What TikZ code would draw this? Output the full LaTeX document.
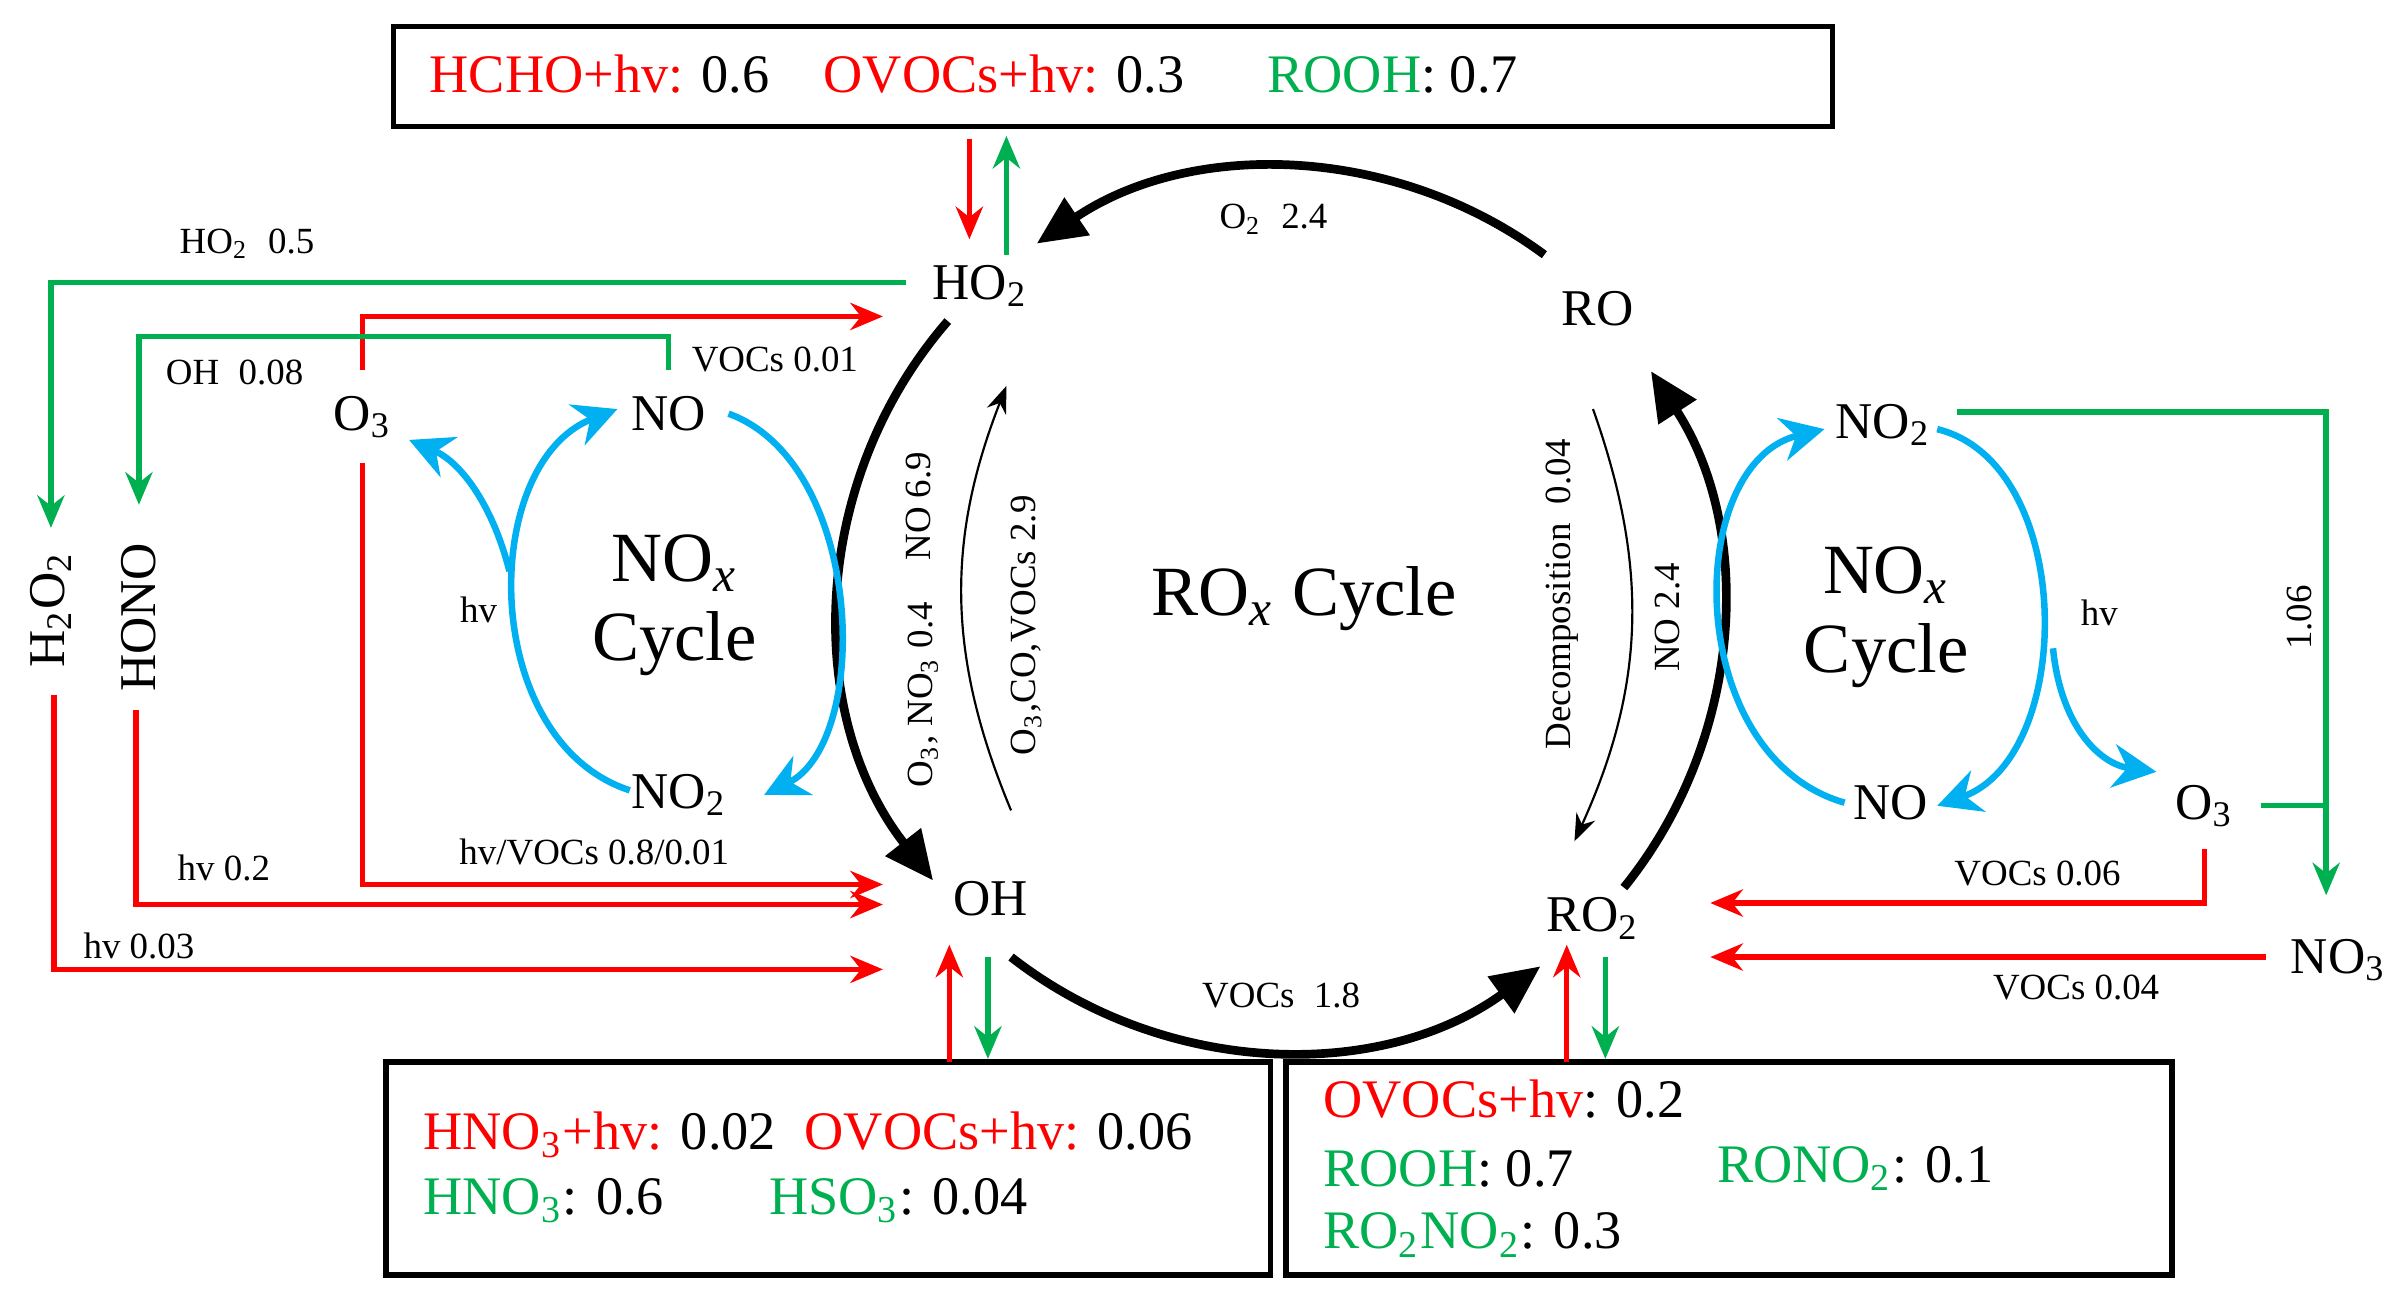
\documentclass[tikz,border=0pt]{standalone}
\usepackage{fontspec}
\setmainfont{Liberation Serif}
\usetikzlibrary{arrows.meta}
\definecolor{rr}{RGB}{255,0,0}
\definecolor{gg}{RGB}{0,176,80}
\definecolor{bb}{RGB}{0,176,240}
\newcommand{\sbs}[1]{\textsubscript{#1}}
\begin{document}
\begin{tikzpicture}[x=0.01cm,y=-0.01cm,
  big/.style={font=\fontsize{10}{12}\selectfont},
  med/.style={font=\fontsize{9.5}{11}\selectfont},
  sm/.style={font=\fontsize{6.8}{8}\selectfont},
  cyc/.style={font=\fontsize{13}{14.5}\selectfont,align=center},
  bx/.style={draw,line width=1pt},
  blk/.style={line width=1.6pt,-{Triangle[length=9pt,width=8pt]}},
  thin/.style={line width=0.4pt,-{Stealth[length=5pt]}},
  rl/.style={rr,line width=1pt,-{Stealth[length=6pt,width=5pt]}},
  gl/.style={gg,line width=1pt,-{Stealth[length=6pt,width=5pt]}},
  bl/.style={bb,line width=1.2pt,-{Stealth[length=8pt,width=8pt]}}]
\useasboundingbox (0,0) rectangle (1560,839);
% boxes
\draw[bx] (255,17) rectangle (1187,82);
\node[big,anchor=west] (t1) at (266,48) {\textcolor{rr}{HCHO+hv:} 0.6\quad \textcolor{rr}{OVOCs+hv:} 0.3\quad\; \textcolor{gg}{ROOH}: 0.7};
\draw[bx] (250,688) rectangle (823,826);
\node[big,anchor=west] (b1) at (262,735) {\textcolor{rr}{HNO\sbs{3}+hv:} 0.02\; \textcolor{rr}{OVOCs+hv:} 0.06};
\node[big,anchor=west] (b2) at (262,778) {\textcolor{gg}{HNO\sbs{3}}: 0.6};
\node[big,anchor=west] (b3) at (486,778) {\textcolor{gg}{HSO\sbs{3}}: 0.04};
\draw[bx] (833,688) rectangle (1407,826);
\node[big,anchor=west] (c1) at (845,712) {\textcolor{rr}{OVOCs+hv}: 0.2};
\node[big,anchor=west] (c2) at (845,757) {\textcolor{gg}{ROOH}: 0.7};
\node[big,anchor=west] (c3) at (1100,757) {\textcolor{gg}{RONO\sbs{2}}: 0.1};
\node[big,anchor=west] (c4) at (845,800) {\textcolor{gg}{RO\sbs{2}NO\sbs{2}}: 0.3};
% main species
\node[med] (ho2) at (635,185) {HO\sbs{2}};
\node[med] (oh) at (642,582) {OH};
\node[med] (ro) at (1035,200) {RO};
\node[med] (ro2) at (1032,595) {RO\sbs{2}};
\node[cyc] (rox) at (845,388) {RO\sbs{\textit{x}} Cycle};
% big arcs
\draw[blk] (1000.5,165) arc[start angle=-53.5,end angle=-124,radius=285];
\draw[blk] (614,208) arc[start angle=-139,end angle=-218,radius=285];
\draw[blk] (655,620) arc[start angle=-232,end angle=-306,radius=285];
\draw[blk] (1052,575) arc[start angle=39,end angle=-33,radius=285];
\draw[thin] (655,525) to[bend left=22] (652,250);
\draw[thin] (1032,265) to[bend left=22] (1020,545);
\node[sm] (l1) at (825,142) {O\sbs{2}\; 2.4};
\node[sm] (l2) at (830,645) {VOCs\; 1.8};
\node[sm,rotate=90] (l3) at (595,328) {NO 6.9};
\node[sm,rotate=90] (l4) at (598,450) {O\sbs{3}, NO\sbs{3} 0.4};
\node[sm,rotate=90] (l5) at (665,405) {O\sbs{3},CO,VOCs 2.9};
\node[sm,rotate=90] (l6) at (1012,385) {Decomposition\; 0.04};
\node[sm,rotate=90] (l7) at (1080,400) {NO 2.4};
% left NOx cycle
\node[med] (no) at (433,268) {NO};
\node[med] (no2) at (440,515) {NO\sbs{2}};
\node[med] (o3) at (235,270) {O\sbs{3}};
\node[cyc] (lc) at (437,392) {NO\sbs{\textit{x}}\\Cycle};
\draw[bl] (472,268) .. controls (560,300) and (565,480) .. (495,515);
\draw[bl] (408,512) .. controls (310,480) and (310,300) .. (400,265);
\draw[bl] (330,370) .. controls (320,330) and (300,300) .. (265,285);
\node[sm] (hv1) at (310,395) {hv};
% right NOx cycle
\node[med] (rno2) at (1220,275) {NO\sbs{2}};
\node[med] (rno) at (1225,520) {NO};
\node[med] (ro3) at (1428,522) {O\sbs{3}};
\node[cyc] (rc) at (1222,400) {NO\sbs{\textit{x}}\\Cycle};
\draw[bl] (1195,520) .. controls (1090,490) and (1090,300) .. (1182,278);
\draw[bl] (1255,278) .. controls (1345,300) and (1345,490) .. (1255,522);
\draw[bl] (1330,420) .. controls (1335,470) and (1360,495) .. (1397,500);
\node[sm] (hv2) at (1360,397) {hv};
% outer species
\node[med,rotate=90] (h2o2) at (33,395) {H\sbs{2}O\sbs{2}};
\node[med,rotate=90] (hono) at (90,400) {HONO};
\node[med] (no3) at (1515,622) {NO\sbs{3}};
% left connectors
\draw[gl] (587,183) -- (33,183) -- (33,342);
\node[sm] at (160,158) {HO\sbs{2}\; 0.5};
\draw[rl] (235,240) -- (235,205) -- (572,205);
\draw[gl] (433,240) -- (433,218) -- (90,218) -- (90,327);
\node[sm] at (152,241) {OH\; 0.08};
\node[sm] at (502,233) {VOCs 0.01};
\draw[rl] (235,300) -- (235,573) -- (572,573);
\node[sm] at (385,552) {hv/VOCs 0.8/0.01};
\draw[rl] (88,460) -- (88,586) -- (572,586);
\node[sm] at (145,562) {hv 0.2};
\draw[rl] (35,450) -- (35,628) -- (572,628);
\node[sm] at (90,613) {hv 0.03};
% box arrows
\draw[rl] (628,90) -- (628,155);
\draw[gl] (652,165) -- (652,88);
\draw[rl] (615,688) -- (615,612);
\draw[gl] (640,620) -- (640,686);
\draw[rl] (1015,688) -- (1015,612);
\draw[gl] (1040,620) -- (1040,686);
% right connectors
\draw[gl] (1268,267) -- (1507,267) -- (1507,580);
\draw[gg,line width=1pt] (1465,522) -- (1507,522);
\node[sm,rotate=90] at (1490,400) {1.06};
\draw[rl] (1428,550) -- (1428,585) -- (1108,585);
\node[sm] at (1320,566) {VOCs 0.06};
\draw[rl] (1468,620) -- (1108,620);
\node[sm] at (1345,640) {VOCs 0.04};
\end{tikzpicture}
\end{document}
